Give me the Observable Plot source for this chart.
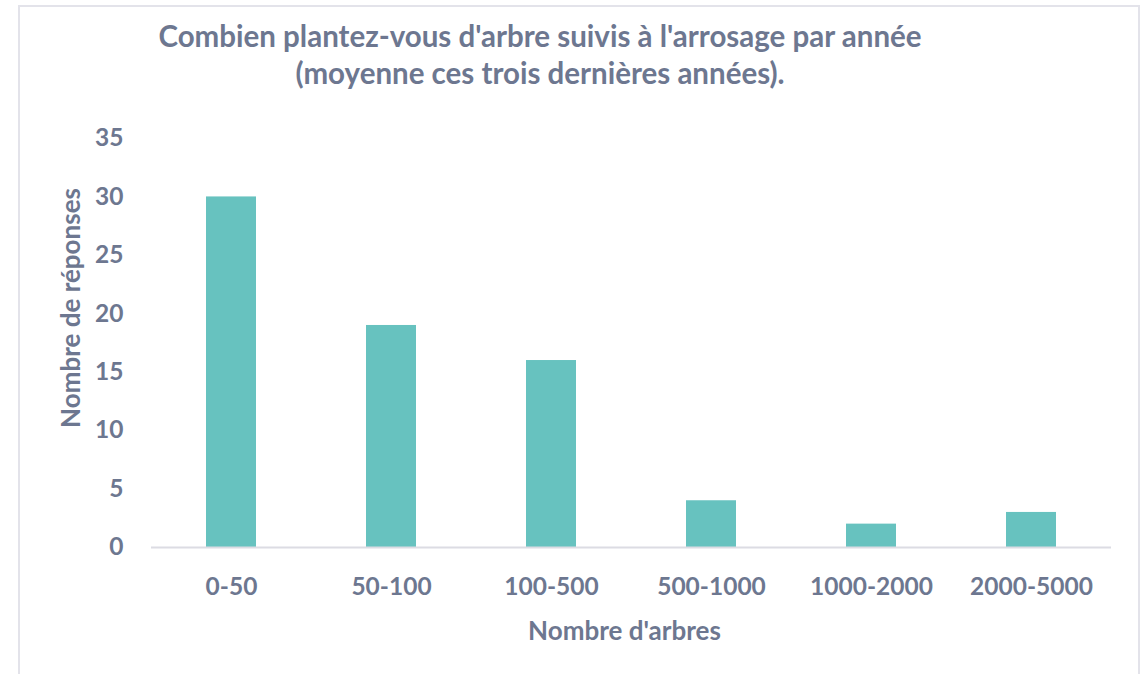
<!DOCTYPE html>
<html>
<head>
<meta charset="utf-8">
<script src="https://cdn.jsdelivr.net/npm/d3@7"></script>
<script src="https://cdn.jsdelivr.net/npm/@observablehq/plot@0.6"></script>
<style>
  html, body { margin: 0; padding: 0; background: #fff; }
  body { width: 1146px; height: 674px; position: relative; overflow: hidden; font-family: Lato, "Open Sans", sans-serif; }
  #frame { position: absolute; left: 18px; top: 5px; width: 1122px; height: 700px; border: 2px solid #e3e3ea; box-sizing: border-box; }
  #title { position: absolute; left: 0; top: 17px; width: 1080px; text-align: center; color: #6d7790; font-weight: 700; font-size: 29.5px; line-height: 37px; }
  #chart { position: absolute; left: 0; top: 0; }
  #chart svg g[aria-label="y-axis label"] text, #chart svg g[aria-label="x-axis label"] text { font-size: 26px; }
</style>
</head>
<body>
<div id="frame"></div>
<div id="chart"></div>
<div id="title">Combien plantez-vous d'arbre suivis à l'arrosage par année<br>(moyenne ces trois dernières années).</div>
<script>
const categories = ["0-50", "50-100", "100-500", "500-1000", "1000-2000", "2000-5000"];
const responses = [30, 19, 16, 4, 2, 3];
const yTicks = [0, 5, 10, 15, 20, 25, 30, 35];
const xLabel = "Nombre d'arbres";
const yLabel = "Nombre de réponses";

const data = categories.map((c, i) => ({category: c, value: responses[i]}));
const ink = "#6d7790";

const chart = Plot.plot({
  width: 1146,
  height: 674,
  marginLeft: 151,
  marginRight: 35,
  marginTop: 138,
  marginBottom: 127,
  style: {fontFamily: "Lato, 'Open Sans', sans-serif", fontSize: "24.5px", fontWeight: 700, color: ink, background: "transparent"},
  x: {domain: categories, paddingInner: 0.69, paddingOuter: 0.345},
  y: {domain: [0, 35]},
  marks: [
    Plot.barY(data, {x: "category", y: "value", fill: "#67c2bf"}),
    Plot.ruleY([0], {stroke: "#dcdce3", strokeWidth: 2}),
    Plot.axisY({ticks: yTicks, tickSize: 0, tickPadding: 28, label: yLabel, labelArrow: false, labelAnchor: "center", labelOffset: 90, fill: ink}),
    Plot.axisX({tickSize: 0, tickPadding: 30, label: xLabel, labelArrow: false, labelAnchor: "center", labelOffset: 92, fill: ink})
  ]
});
function nudge(sel, dx, dy) {
  const g = chart.querySelector(sel);
  if (!g) return;
  const t = g.getAttribute("transform") || "";
  g.setAttribute("transform", `translate(${dx},${dy}) ${t}`);
}
nudge('g[aria-label="y-axis label"]', 0, -35);
nudge('g[aria-label="x-axis label"]', -7, 0);
document.getElementById("chart").appendChild(chart);
</script>
</body>
</html>
